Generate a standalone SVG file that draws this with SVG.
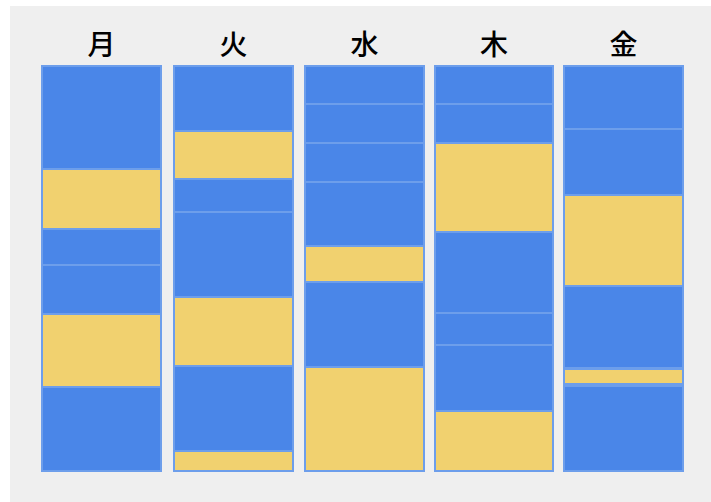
<svg xmlns="http://www.w3.org/2000/svg" width="711" height="502" viewBox="0 0 711 502">
<style>
.lbl{font-family:"Noto Sans CJK JP","Noto Sans CJK SC",sans-serif;font-size:28px;font-weight:500;fill:#000;text-anchor:middle}
.b{fill:#4a86e8;stroke:#6d9eeb;stroke-width:2}
.y{fill:#f1d16f;stroke:#6d9eeb;stroke-width:2}
</style>
<rect x="0" y="0" width="711" height="502" fill="#ffffff"/>
<rect x="10" y="6" width="701" height="496" fill="#efefef"/>
<g id="mon">
<text class="lbl" x="101.5" y="55">月</text>
<rect class="b" x="42" y="66" width="119" height="103"/>
<rect class="y" x="42" y="169" width="119" height="60"/>
<rect class="b" x="42" y="229" width="119" height="36"/>
<rect class="b" x="42" y="265" width="119" height="49"/>
<rect class="y" x="42" y="314" width="119" height="73"/>
<rect class="b" x="42" y="387" width="119" height="84"/>
</g>
<g id="tue">
<text class="lbl" x="233.5" y="55">火</text>
<rect class="b" x="174" y="66" width="119" height="65"/>
<rect class="y" x="174" y="131" width="119" height="48"/>
<rect class="b" x="174" y="179" width="119" height="33"/>
<rect class="b" x="174" y="212" width="119" height="85"/>
<rect class="y" x="174" y="297" width="119" height="69"/>
<rect class="b" x="174" y="366" width="119" height="85"/>
<rect class="y" x="174" y="451" width="119" height="20"/>
</g>
<g id="wed">
<text class="lbl" x="364.5" y="55">水</text>
<rect class="b" x="305" y="66" width="119" height="38"/>
<rect class="b" x="305" y="104" width="119" height="39"/>
<rect class="b" x="305" y="143" width="119" height="39"/>
<rect class="b" x="305" y="182" width="119" height="64"/>
<rect class="y" x="305" y="246" width="119" height="36"/>
<rect class="b" x="305" y="282" width="119" height="85"/>
<rect class="y" x="305" y="367" width="119" height="104"/>
</g>
<g id="thu">
<text class="lbl" x="494" y="55">木</text>
<rect class="b" x="435" y="66" width="118" height="38"/>
<rect class="b" x="435" y="104" width="118" height="39"/>
<rect class="y" x="435" y="143" width="118" height="89"/>
<rect class="b" x="435" y="232" width="118" height="81"/>
<rect class="b" x="435" y="313" width="118" height="32"/>
<rect class="b" x="435" y="345" width="118" height="66"/>
<rect class="y" x="435" y="411" width="118" height="60"/>
</g>
<g id="fri">
<text class="lbl" x="623.5" y="55">金</text>
<rect class="b" x="564" y="66" width="119" height="63"/>
<rect class="b" x="564" y="129" width="119" height="66"/>
<rect class="y" x="564" y="195" width="119" height="91"/>
<rect class="b" x="564" y="286" width="119" height="82"/>
<rect class="y" x="564" y="369" width="119" height="15"/>
<rect class="b" x="564" y="386" width="119" height="85"/>
</g>
<g id="connectors"/>
</svg>
